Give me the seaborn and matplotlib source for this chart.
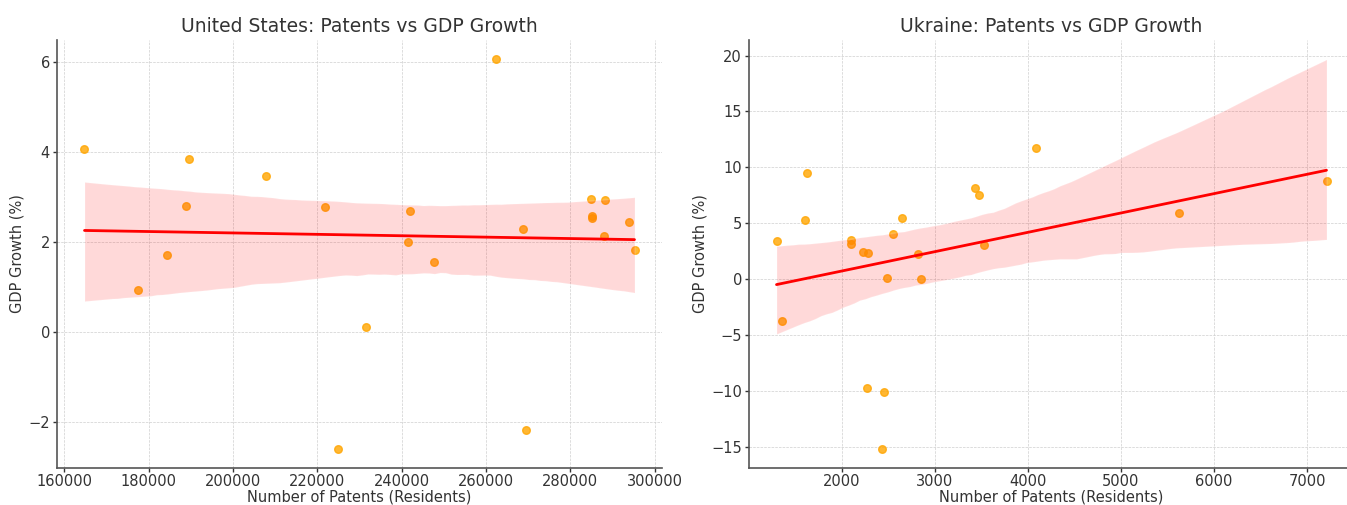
import matplotlib
matplotlib.use("Agg")
import matplotlib.pyplot as plt
import seaborn as sns
import pandas as pd

# Resident patent filings and annual real GDP growth (%)
us_patents = [164814, 177550, 184260, 189000, 189640, 207970, 221800, 224880,
              231620, 241960, 241410, 247810, 262280, 268840, 269550, 285040,
              285200, 285200, 288360, 287900, 293890, 295240]
us_gdp_growth = [4.07, 0.94, 1.70, 2.79, 3.84, 3.47, 2.78, -2.59,
                 0.10, 2.69, 2.00, 1.56, 6.05, 2.29, -2.18, 2.96,
                 2.58, 2.52, 2.93, 2.12, 2.45, 1.81]

ua_patents = [1302, 1603, 1631, 2097, 2107, 2229, 2285, 2489, 2554, 2647, 2826,
              2858, 3438, 3473, 3534, 4092, 5619, 7207, 1363, 2274, 2457, 2436]
ua_gdp_growth = [3.42, 5.31, 9.49, 3.13, 3.46, 2.40, 2.34, 0.13, 4.04, 5.43, 2.22,
                 0.04, 8.16, 7.52, 3.07, 11.75, 5.87, 8.78, -3.78, -9.75, -10.1, -15.17]

titles = ["United States: Patents vs GDP Growth", "Ukraine: Patents vs GDP Growth"]
x_label = "Number of Patents (Residents)"
y_label = "GDP Growth (%)"

sns.set_theme(style="ticks")
plt.rcParams.update({
    "font.family": ["DejaVu Sans"],
    "text.color": "#333333",
    "axes.labelcolor": "#333333",
    "xtick.color": "#333333",
    "ytick.color": "#333333",
    "axes.edgecolor": "#555555",
})

W, H = 1347, 505
fig = plt.figure(figsize=(W / 100, H / 100), dpi=100)
ax_us = fig.add_axes([57 / W, (H - 468) / H, 605 / W, 428 / H])
ax_ua = fig.add_axes([749 / W, (H - 468) / H, 605 / W, 428 / H])

frames = [
    pd.DataFrame({"patents": us_patents, "gdp": us_gdp_growth}),
    pd.DataFrame({"patents": ua_patents, "gdp": ua_gdp_growth}),
]

for ax, df, title in zip([ax_us, ax_ua], frames, titles):
    sns.regplot(data=df, x="patents", y="gdp", ax=ax, seed=7,
                scatter_kws={"color": "orange", "s": 30, "alpha": 0.8},
                line_kws={"color": "red", "linewidth": 2})
    ax.set_title(title, fontsize=13.5, color="#333333", pad=6)
    ax.set_xlabel(x_label, fontsize=10.5, labelpad=0)
    ax.set_ylabel(y_label, fontsize=10.5, labelpad=3)
    ax.tick_params(labelsize=10.5, length=3, width=1, pad=2, colors="#333333")
    ax.tick_params(axis="x", pad=1.5)
    ax.grid(True, linestyle="--", linewidth=0.5, color="#cfcfcf")
    ax.set_axisbelow(True)
    for side in ["top", "right"]:
        ax.spines[side].set_visible(False)
    for side in ["left", "bottom"]:
        ax.spines[side].set_linewidth(1.2)

fig.savefig("out.png", dpi=100)
